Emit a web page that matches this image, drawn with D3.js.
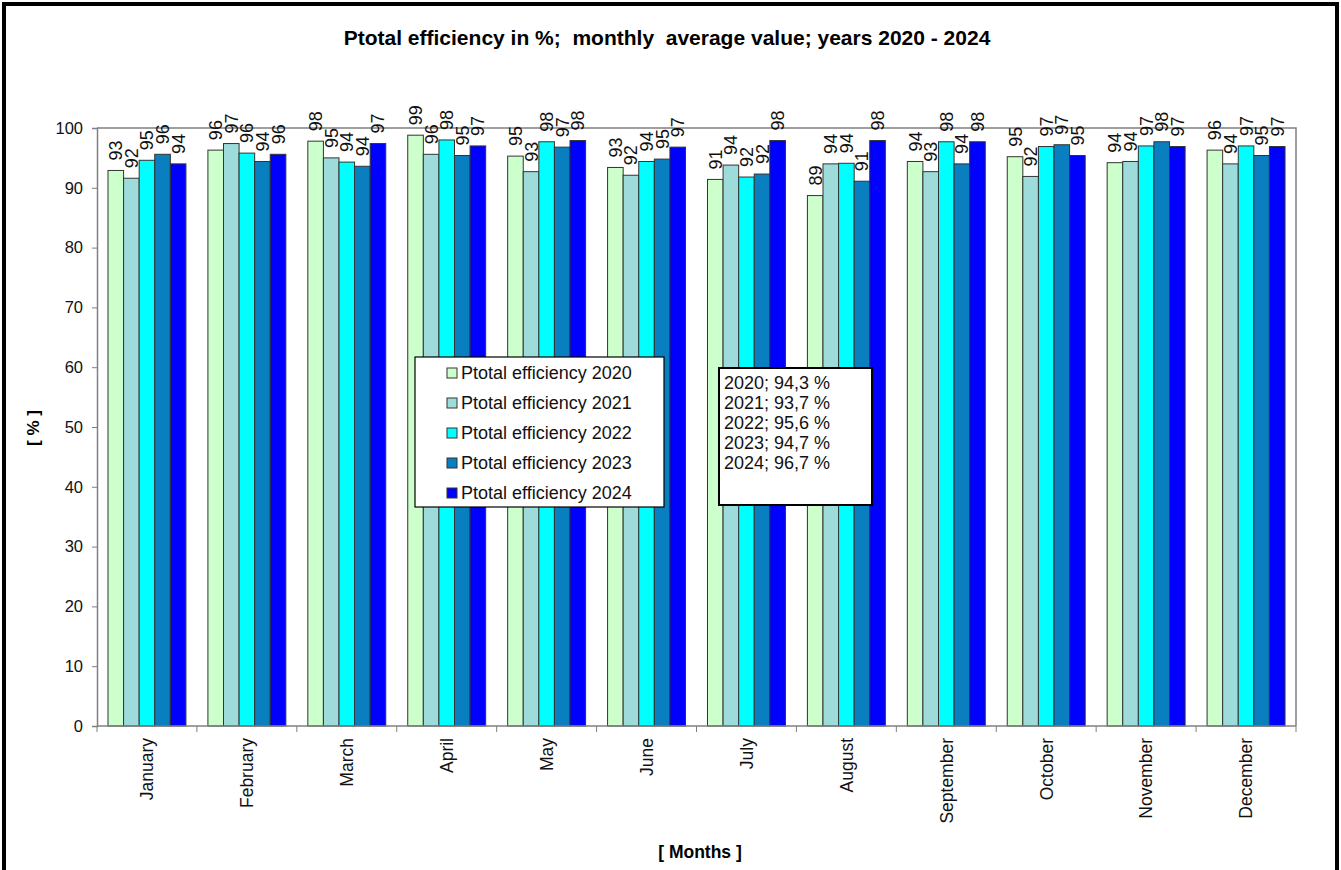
<!DOCTYPE html>
<html>
<head>
<meta charset="utf-8">
<script src="https://cdn.jsdelivr.net/npm/d3@7"></script>
<style>
  body { margin: 0; background: #fff; }
  text { font-family: Arial, "Liberation Sans", sans-serif; }
</style>
</head>
<body>
<div id="chart"></div>
<script>
var months = ["January", "February", "March", "April", "May", "June", "July",
    "August", "September", "October", "November", "December"];
var years = ["2020", "2021", "2022", "2023", "2024"];
var eff2020 = [92.9, 96.3, 97.8, 98.8, 95.3, 93.4, 91.4, 88.7, 94.4, 95.2, 94.2, 96.3];
var eff2021 = [91.6, 97.4, 95.0, 95.6, 92.7, 92.1, 93.8, 94.0, 92.7, 91.9, 94.4, 94.0];
var eff2022 = [94.6, 95.8, 94.3, 98.0, 97.7, 94.4, 91.8, 94.1, 97.7, 96.9, 97.0, 97.0];
var eff2023 = [95.6, 94.4, 93.6, 95.4, 96.8, 94.8, 92.3, 91.1, 94.0, 97.2, 97.7, 95.4];
var eff2024 = [94.0, 95.6, 97.4, 97.0, 97.9, 96.8, 97.9, 97.9, 97.7, 95.4, 96.9, 96.9];
var yearAverages = [94.3, 93.7, 95.6, 94.7, 96.7];
var yTicks = [0, 10, 20, 30, 40, 50, 60, 70, 80, 90, 100];
var seriesColors = ["#ccffcc", "#9edcdc", "#00ffff", "#0a7fc0", "#0000ff"];

var series = [eff2020, eff2021, eff2022, eff2023, eff2024];

var width = 1341, height = 870;
var margin = { top: 128, right: 45, bottom: 144, left: 97 };
var plotW = width - margin.left - margin.right,
    plotH = height - margin.top - margin.bottom;

var svg = d3.select("#chart").append("svg")
    .attr("width", width)
    .attr("height", height);

// outer frame
svg.append("rect")
    .attr("x", 4).attr("y", 4)
    .attr("width", width - 8).attr("height", height + 20)
    .attr("fill", "none")
    .attr("stroke", "#000")
    .attr("stroke-width", 4);

svg.append("text")
    .attr("x", 667).attr("y", 45)
    .attr("text-anchor", "middle")
    .attr("font-size", "21px")
    .attr("font-weight", "bold")
    .style("white-space", "pre")
    .text("Ptotal efficiency in %;  monthly  average value; years 2020 - 2024");

var g = svg.append("g")
    .attr("transform", "translate(" + margin.left + "," + margin.top + ")");

var x0 = d3.scaleBand().domain(months).range([0, plotW]).paddingInner(0.22).paddingOuter(0.11);
var x1 = d3.scaleBand().domain(years).range([0, x0.bandwidth()]);
var y = d3.scaleLinear().domain([0, 100]).range([plotH, 0]);
var color = d3.scaleOrdinal().domain(years).range(seriesColors);

// plot frame (top and right)
g.append("path")
    .attr("d", "M0,0H" + plotW + "V" + plotH)
    .attr("fill", "none")
    .attr("stroke", "#808080")
    .attr("stroke-width", 1.5);

var groups = g.selectAll(".month")
    .data(months)
    .enter().append("g")
    .attr("class", "month")
    .attr("transform", function (d) { return "translate(" + x0(d) + ",0)"; });

var cells = groups.selectAll(".bar")
    .data(function (m, i) {
        return years.map(function (yr, k) { return { year: yr, value: series[k][i] }; });
    })
    .enter().append("g")
    .attr("class", "bar");

cells.append("rect")
    .attr("x", function (d) { return x1(d.year); })
    .attr("y", function (d) { return y(d.value); })
    .attr("width", x1.bandwidth())
    .attr("height", function (d) { return plotH - y(d.value); })
    .attr("fill", function (d) { return color(d.year); })
    .attr("stroke", "#333")
    .attr("stroke-width", 1);

cells.append("text")
    .attr("transform", function (d) {
        return "translate(" + (x1(d.year) + x1.bandwidth() / 2) + "," + (y(d.value) - 10) + ") rotate(-90)";
    })
    .attr("dy", "0.36em")
    .attr("font-size", "18px")
    .attr("fill", "#111")
    .text(function (d) { return d3.format(".0f")(d.value); });

// x axis with ticks at the band edges
var xAxis = g.append("g").attr("transform", "translate(0," + plotH + ")");
xAxis.append("line")
    .attr("x1", 0).attr("x2", plotW)
    .attr("stroke", "#808080").attr("stroke-width", 1.5);
xAxis.selectAll(".tk")
    .data(d3.range(months.length + 1))
    .enter().append("line")
    .attr("x1", function (i) { return i * x0.step(); })
    .attr("x2", function (i) { return i * x0.step(); })
    .attr("y1", 0).attr("y2", 6)
    .attr("stroke", "#808080");
xAxis.selectAll(".lbl")
    .data(months)
    .enter().append("text")
    .attr("transform", function (d) {
        return "translate(" + (x0(d) + x0.bandwidth() / 2) + ",12) rotate(-90)";
    })
    .attr("dy", "0.36em")
    .attr("text-anchor", "end")
    .attr("font-size", "17.5px")
    .attr("fill", "#111")
    .text(function (d) { return d; });

var yAxis = g.append("g")
    .call(d3.axisLeft(y).tickValues(yTicks).tickSize(5).tickPadding(9));
yAxis.select(".domain").attr("stroke", "#808080").attr("stroke-width", 1.5);
yAxis.selectAll(".tick line").attr("stroke", "#808080");
yAxis.selectAll(".tick text")
    .attr("font-size", "16.5px")
    .attr("font-family", "Arial, 'Liberation Sans', sans-serif")
    .attr("fill", "#111");

svg.append("text")
    .attr("transform", "translate(33,428) rotate(-90)")
    .attr("dy", "0.36em")
    .attr("text-anchor", "middle")
    .attr("font-size", "17px")
    .attr("font-weight", "bold")
    .text("[ % ]");

svg.append("text")
    .attr("x", 700).attr("y", 858)
    .attr("text-anchor", "middle")
    .attr("font-size", "17.5px")
    .attr("font-weight", "bold")
    .text("[ Months ]");

// legend
var legend = svg.append("g").attr("transform", "translate(415,357)");
legend.append("rect")
    .attr("width", 249).attr("height", 150)
    .attr("fill", "#fff").attr("stroke", "#000").attr("stroke-width", 1.2);
var li = legend.selectAll(".li")
    .data(years)
    .enter().append("g")
    .attr("transform", function (d, i) { return "translate(32," + (16 + i * 30) + ")"; });
li.append("rect")
    .attr("x", 0).attr("y", -5)
    .attr("width", 10).attr("height", 10)
    .attr("fill", function (d) { return color(d); })
    .attr("stroke", "#333");
li.append("text")
    .attr("x", 14).attr("dy", "0.36em")
    .attr("font-size", "18px")
    .attr("fill", "#111")
    .text(function (d) { return "Ptotal efficiency " + d; });

// yearly averages box
var stats = svg.append("g").attr("transform", "translate(719,368)");
stats.append("rect")
    .attr("width", 153).attr("height", 137)
    .attr("fill", "#fff").attr("stroke", "#000").attr("stroke-width", 2);
stats.selectAll(".st")
    .data(yearAverages)
    .enter().append("text")
    .attr("x", 5)
    .attr("y", function (d, i) { return 21 + i * 20; })
    .attr("font-size", "18px")
    .attr("fill", "#111")
    .text(function (d, i) { return years[i] + "; " + d3.format(".1f")(d).replace(".", ",") + " %"; });
</script>
</body>
</html>
